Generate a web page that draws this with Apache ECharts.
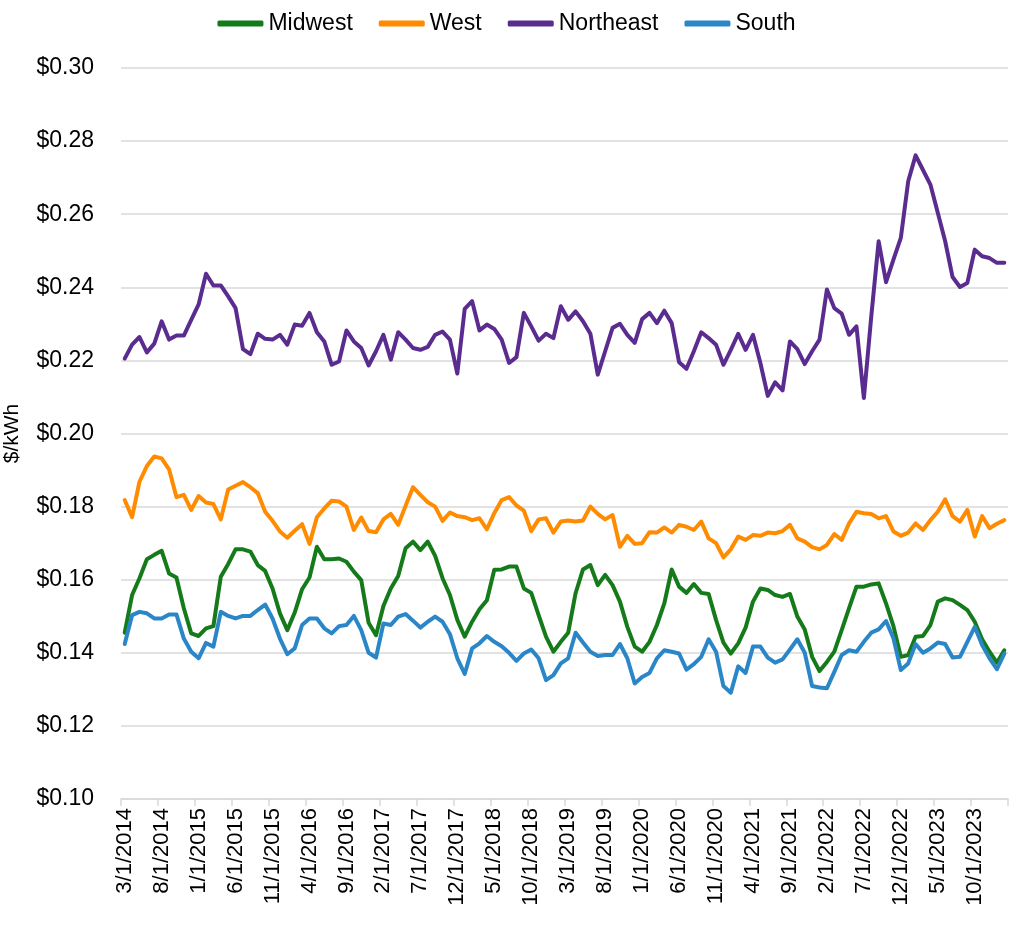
<!DOCTYPE html>
<html>
<head>
<meta charset="utf-8">
<script src="https://cdn.jsdelivr.net/npm/echarts@6/dist/echarts.min.js"></script>
<style>
html,body{margin:0;padding:0;background:#fff;}
#chart{width:1013px;height:936px;}
</style>
</head>
<body>
<div id="chart"></div>
<script>
// Monthly categories 3/1/2014 .. 2/1/2024
const startYear = 2014, startMonth = 3, monthCount = 120;
const categories = [];
for (let k = 0; k < monthCount; k++) {
  const m0 = startMonth - 1 + k;
  categories.push(((m0 % 12) + 1) + '/1/' + (startYear + Math.floor(m0 / 12)));
}

const midwest = [
  0.1455,0.1558,0.1604,0.1656,0.1668,0.1679,0.1617,0.1606,0.1522,0.1453,
  0.1446,0.1467,0.1473,0.1608,0.1643,0.1683,0.1683,0.1677,0.1640,0.1624,
  0.1576,0.1508,0.1462,0.1510,0.1574,0.1606,0.1690,0.1656,0.1656,0.1658,
  0.1649,0.1622,0.1599,0.1482,0.1448,0.1528,0.1576,0.1610,0.1686,0.1704,
  0.1681,0.1704,0.1665,0.1604,0.1558,0.1490,0.1444,0.1485,0.1519,0.1544,
  0.1627,0.1628,0.1636,0.1636,0.1576,0.1564,0.1503,0.1444,0.1403,0.1430,
  0.1455,0.1563,0.1628,0.1640,0.1585,0.1613,0.1585,0.1540,0.1471,0.1417,
  0.1403,0.1430,0.1476,0.1535,0.1628,0.1581,0.1564,0.1588,0.1564,0.1561,
  0.1490,0.1428,0.1398,0.1426,0.1469,0.1540,0.1576,0.1572,0.1558,0.1553,
  0.1561,0.1499,0.1464,0.1389,0.1350,0.1375,0.1403,0.1462,0.1522,0.1581,
  0.1581,0.1587,0.1590,0.1535,0.1473,0.1389,0.1394,0.1444,0.1446,0.1476,
  0.1540,0.1549,0.1544,0.1531,0.1517,0.1485,0.1437,0.1403,0.1373,0.1407
];

const west = [
  0.1818,0.1771,0.1868,0.1911,0.1937,0.1932,0.1902,0.1826,0.1832,0.1791,
  0.1829,0.1811,0.1807,0.1765,0.1847,0.1857,0.1867,0.1853,0.1837,0.1786,
  0.1761,0.1732,0.1715,0.1734,0.1752,0.1698,0.1771,0.1795,0.1816,0.1814,
  0.1800,0.1736,0.1770,0.1733,0.1730,0.1765,0.1780,0.1750,0.1802,0.1853,
  0.1832,0.1812,0.1800,0.1761,0.1784,0.1774,0.1771,0.1763,0.1768,0.1738,
  0.1782,0.1818,0.1826,0.1803,0.1789,0.1733,0.1765,0.1768,0.1729,0.1759,
  0.1762,0.1759,0.1762,0.1800,0.1780,0.1765,0.1777,0.1690,0.1720,0.1698,
  0.1700,0.1730,0.1729,0.1743,0.1729,0.1750,0.1745,0.1736,0.1759,0.1713,
  0.1700,0.1661,0.1683,0.1718,0.1709,0.1722,0.1720,0.1729,0.1727,0.1733,
  0.1750,0.1713,0.1704,0.1689,0.1683,0.1695,0.1725,0.1709,0.1754,0.1786,
  0.1782,0.1780,0.1768,0.1774,0.1732,0.1720,0.1729,0.1754,0.1736,0.1763,
  0.1786,0.1820,0.1774,0.1759,0.1791,0.1718,0.1774,0.1741,0.1753,0.1763
];

const northeast = [
  0.2205,0.2243,0.2264,0.2222,0.2246,0.2307,0.2257,0.2268,0.2268,0.2311,
  0.2353,0.2437,0.2405,0.2405,0.2375,0.2343,0.2231,0.2217,0.2273,0.2259,
  0.2257,0.2270,0.2243,0.2298,0.2295,0.2330,0.2277,0.2252,0.2188,0.2197,
  0.2282,0.2252,0.2234,0.2186,0.2225,0.2270,0.2202,0.2277,0.2257,0.2234,
  0.2229,0.2237,0.2270,0.2279,0.2257,0.2164,0.2341,0.2362,0.2282,0.2298,
  0.2286,0.2257,0.2193,0.2209,0.2330,0.2293,0.2254,0.2273,0.2261,0.2348,
  0.2311,0.2334,0.2307,0.2273,0.2161,0.2225,0.2289,0.2300,0.2270,0.2248,
  0.2313,0.2330,0.2302,0.2336,0.2302,0.2195,0.2177,0.2225,0.2277,0.2261,
  0.2243,0.2188,0.2229,0.2273,0.2229,0.2270,0.2193,0.2103,0.2140,0.2118,
  0.2252,0.2231,0.2190,0.2225,0.2257,0.2394,0.2343,0.2328,0.2270,0.2293,
  0.2097,0.2320,0.2526,0.2414,0.2476,0.2535,0.2690,0.2761,0.2721,0.2681,
  0.2604,0.2526,0.2428,0.2401,0.2412,0.2503,0.2485,0.2480,0.2467,0.2467
];

const south = [
  0.1424,0.1503,0.1512,0.1508,0.1494,0.1494,0.1505,0.1505,0.1439,0.1403,
  0.1385,0.1427,0.1417,0.1512,0.1501,0.1494,0.1501,0.1501,0.1517,0.1532,
  0.1494,0.1439,0.1396,0.1412,0.1476,0.1494,0.1494,0.1467,0.1453,0.1473,
  0.1476,0.1501,0.1462,0.1400,0.1387,0.1480,0.1476,0.1499,0.1506,0.1488,
  0.1469,0.1485,0.1499,0.1485,0.1451,0.1385,0.1342,0.1412,0.1426,0.1446,
  0.1430,0.1418,0.1400,0.1378,0.1398,0.1409,0.1385,0.1325,0.1339,0.1371,
  0.1385,0.1455,0.1428,0.1403,0.1391,0.1394,0.1394,0.1424,0.1385,0.1316,
  0.1334,0.1345,0.1385,0.1407,0.1403,0.1398,0.1354,0.1369,0.1389,0.1437,
  0.1403,0.1309,0.1291,0.1363,0.1345,0.1417,0.1417,0.1387,0.1373,0.1382,
  0.1409,0.1437,0.1400,0.1309,0.1305,0.1303,0.1348,0.1394,0.1407,0.1403,
  0.1430,0.1455,0.1464,0.1487,0.1440,0.1353,0.1371,0.1424,0.1400,0.1412,
  0.1428,0.1424,0.1387,0.1389,0.1430,0.1471,0.1421,0.1385,0.1355,0.1398
];

const seriesNames = ['Midwest', 'West', 'Northeast', 'South'];
const seriesColors = ['#157A1A', '#FF8C00', '#5B2C8F', '#2B86C8'];
const seriesData = [midwest, west, northeast, south];

const FONT = '"Liberation Sans", Arial, Helvetica, sans-serif';

const chart = echarts.init(document.getElementById('chart'), null, {renderer: 'canvas'});
chart.setOption({
  animation: false,
  backgroundColor: '#ffffff',
  textStyle: {fontFamily: FONT},
  legend: {
    top: 7,
    left: 'center',
    icon: 'roundRect',
    itemWidth: 46,
    itemHeight: 6,
    itemGap: 26,
    textStyle: {fontSize: 23, color: '#000', fontFamily: FONT},
    data: seriesNames
  },
  grid: {left: 121, right: 5, top: 68, bottom: 137, containLabel: false, outerBoundsMode: 'none'},
  xAxis: {
    type: 'category',
    data: categories,
    boundaryGap: true,
    axisLine: {show: true, lineStyle: {color: '#d9d9d9', width: 1.5}},
    axisTick: {show: true, interval: 4, length: 7, lineStyle: {color: '#d9d9d9', width: 1.5}},
    axisLabel: {interval: 4, rotate: 90, margin: 9, fontSize: 22, color: '#000', fontFamily: FONT},
    splitLine: {show: false}
  },
  yAxis: {
    type: 'value',
    min: 0.10,
    max: 0.30,
    interval: 0.02,
    name: '$/kWh',
    nameLocation: 'middle',
    nameRotate: 90,
    nameGap: 98,
    nameTextStyle: {fontSize: 21, color: '#000', fontFamily: FONT},
    axisLine: {show: false},
    axisTick: {show: false},
    axisLabel: {margin: 27, fontSize: 23, color: '#000', fontFamily: FONT,
      formatter: function (v) { return '$' + v.toFixed(2); }},
    splitLine: {show: true, lineStyle: {color: '#d9d9d9', width: 1.5}}
  },
  series: seriesNames.map(function (name, k) {
    return {
      name: name,
      type: 'line',
      data: seriesData[k],
      symbol: 'none',
      smooth: false,
      lineStyle: {width: 4, color: seriesColors[k], join: 'round', cap: 'round'},
      itemStyle: {color: seriesColors[k]}
    };
  })
});
</script>
</body>
</html>
